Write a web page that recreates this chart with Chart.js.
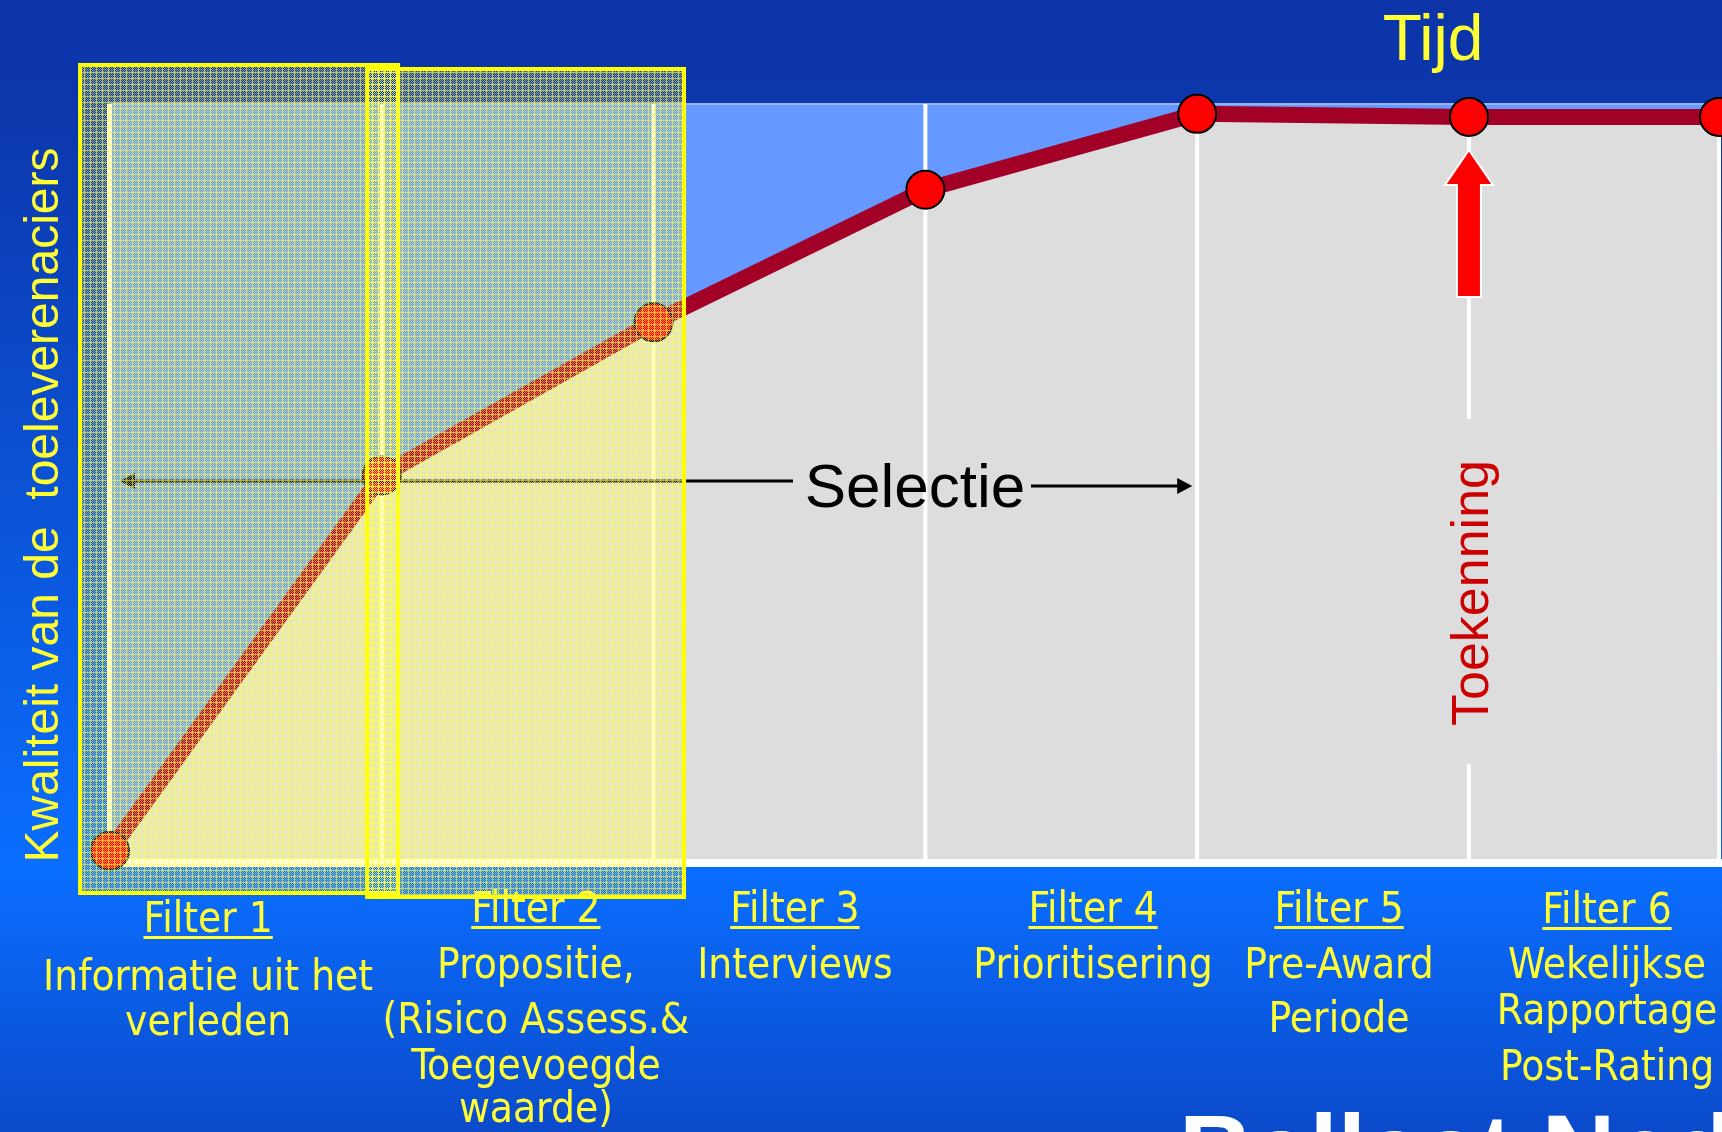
<!DOCTYPE html>
<html>
<head>
<meta charset="utf-8">
<title>Selectie van toeleveranciers</title>
<script src="https://cdn.jsdelivr.net/npm/chart.js@4.4.1/dist/chart.umd.min.js"></script>
<style>
  html, body { margin: 0; padding: 0; overflow: hidden; background: #0c35aa; }
  #wrap { position: relative; width: 1722px; height: 1132px; }
</style>
</head>
<body>
<div id="wrap"><canvas id="chart"></canvas></div>
<script>
// one point per grid line, quality rises over time (last stage sits a bit closer)
const stageX = [0, 1, 2, 3, 4, 5, 5.92];
const quality = [1.5, 51, 71.2, 88.7, 98.7, 98.3, 98.3];

const filterTitles = ['Filter 1', 'Filter 2', 'Filter 3', 'Filter 4', 'Filter 5', 'Filter 6'];
const filterTexts = [
    ['Informatie uit het', 'verleden'],
    ['Propositie,', '(Risico Assess.&', 'Toegevoegde', 'waarde)'],
    ['Interviews'],
    ['Prioritisering'],
    ['Pre-Award', 'Periode'],
    ['Wekelijkse', 'Rapportage', 'Post-Rating']
];
const yTitle = 'Kwaliteit van de  toeleverenaciers';
const xTitle = 'Tijd';
const selectionText = 'Selectie';
const awardText = 'Toekenning';
const footerText = 'Ballast Nedam';

// caption layout: x in stage units, baselines in px
const captionAt = [0.361, 1.567, 2.520, 3.617, 4.522, 5.508];
const titleBase = [932, 922, 922, 922, 922, 923];
const lineBase = [[990, 1035], [978, 1033, 1079, 1122], [978], [978], [978, 1032], [978, 1024, 1080]];

// yellow highlight frames round the first two filters (x in stage units)
const frames = [
    { from: -0.110, to: 1.060, top: 65, bottom: 893 },
    { from: 0.946, to: 2.112, top: 69, bottom: 897 }
];

const YELLOW = '#ffff33';
const SANS = '"Liberation Sans", Arial, sans-serif';
const CAPTION = '42px "DejaVu Sans Condensed", "DejaVu Sans", sans-serif';

// dithered yellow with a fine grid, like the old slide fill
function hatchPattern(ctx) {
    const n = 6;
    const c = document.createElement('canvas');
    c.width = n;
    c.height = n;
    const p = c.getContext('2d');
    p.fillStyle = 'rgba(255,255,90,0.55)';
    for (let i = 0; i < n; i++) {
        for (let j = 0; j < n; j++) {
            if ((i + j) % 2 === 0) p.fillRect(i, j, 1, 1);
        }
    }
    p.clearRect(0, 0, n, 1);
    p.clearRect(0, 0, 1, n);
    p.fillStyle = 'rgba(255,255,80,0.7)';
    p.fillRect(0, 0, n, 1);
    p.fillRect(0, 1, 1, n - 1);
    return ctx.createPattern(c, 'repeat');
}

function arrowHead(ctx, x, y, dir) {
    ctx.beginPath();
    ctx.moveTo(x, y);
    ctx.lineTo(x - dir * 15, y - 8);
    ctx.lineTo(x - dir * 15, y + 8);
    ctx.closePath();
    ctx.fill();
}

const slide = {
    id: 'slide',
    beforeDraw(chart) {
        const { ctx, width, height, chartArea: a } = chart;
        const g = ctx.createLinearGradient(0, 0, 0, height);
        g.addColorStop(0, '#0c34a8');
        g.addColorStop(0.09, '#0c36ab');
        g.addColorStop(0.77, '#0a6eff');
        g.addColorStop(1, '#0b4acb');
        ctx.save();
        ctx.fillStyle = g;
        ctx.fillRect(0, 0, width, height);
        ctx.fillStyle = '#dddddd';
        ctx.fillRect(a.left, a.top, a.right - a.left, a.bottom - a.top);
        ctx.restore();
    },
    beforeDatasetDraw(chart) {
        // white grid lines, drawn over the blue fill and under the line
        const { ctx, chartArea: a, scales: { x } } = chart;
        ctx.save();
        ctx.fillStyle = '#ffffff';
        stageX.forEach((v, i) => {
            const px = x.getPixelForValue(v);
            if (i === 0) {
                ctx.fillRect(px - 3, a.top, 5, a.bottom - a.top);
            } else if (i === 5) {
                ctx.fillRect(px - 2, a.top, 4, 419 - a.top);
                ctx.fillRect(px - 2, 764, 4, a.bottom - 764);
            } else {
                ctx.fillRect(px - 2, a.top, 4, a.bottom - a.top);
            }
        });
        ctx.fillRect(a.left - 3, a.bottom - 3, a.right - a.left + 6, 8);
        ctx.fillStyle = 'rgba(255,255,255,0.6)';
        ctx.fillRect(a.left, a.top - 1, a.right - a.left, 1.5);
        ctx.restore();
    },
    afterDatasetsDraw(chart) {
        const { ctx, scales: { x } } = chart;
        const x0 = x.getPixelForValue(stageX[0]);
        const x4 = x.getPixelForValue(stageX[4]);
        const x5 = x.getPixelForValue(stageX[5]);
        ctx.save();

        // Selectie with its two arrows
        ctx.strokeStyle = '#000';
        ctx.fillStyle = '#000';
        ctx.lineWidth = 3;
        ctx.beginPath();
        ctx.moveTo(793, 481);
        ctx.lineTo(x0 + 20, 481);
        ctx.moveTo(1031, 486);
        ctx.lineTo(x4 - 15, 486);
        ctx.stroke();
        arrowHead(ctx, x0 + 10, 481, -1);
        arrowHead(ctx, x4 - 5, 486, 1);
        ctx.font = '62px ' + SANS;
        ctx.textAlign = 'center';
        ctx.textBaseline = 'alphabetic';
        ctx.fillText(selectionText, 915, 507);

        // highlight frames
        const pat = hatchPattern(ctx);
        frames.forEach(f => {
            const l = x.getPixelForValue(f.from);
            const r = x.getPixelForValue(f.to);
            ctx.fillStyle = pat;
            ctx.fillRect(l, f.top, r - l, f.bottom - f.top);
            ctx.strokeStyle = '#ffff00';
            ctx.lineWidth = 4;
            ctx.strokeRect(l, f.top, r - l, f.bottom - f.top);
        });

        // award arrow and label
        ctx.beginPath();
        ctx.moveTo(x5, 150);
        ctx.lineTo(x5 + 24, 185);
        ctx.lineTo(x5 + 12, 185);
        ctx.lineTo(x5 + 12, 297);
        ctx.lineTo(x5 - 12, 297);
        ctx.lineTo(x5 - 12, 185);
        ctx.lineTo(x5 - 24, 185);
        ctx.closePath();
        ctx.fillStyle = '#ff0000';
        ctx.fill();
        ctx.strokeStyle = '#ffffff';
        ctx.lineWidth = 2;
        ctx.stroke();

        ctx.save();
        ctx.translate(x5 + 19, 593);
        ctx.rotate(-Math.PI / 2);
        ctx.fillStyle = '#cc0000';
        ctx.font = '52px ' + SANS;
        ctx.textAlign = 'center';
        ctx.fillText(awardText, 0, 0);
        ctx.restore();

        // axis titles
        ctx.fillStyle = YELLOW;
        ctx.font = '64px ' + SANS;
        ctx.textAlign = 'center';
        ctx.fillText(xTitle, 1433, 60);

        ctx.save();
        ctx.translate(58, 505);
        ctx.rotate(-Math.PI / 2);
        ctx.font = '48px ' + SANS;
        ctx.fillText(yTitle, 0, 0);
        ctx.restore();

        // filter captions
        ctx.font = CAPTION;
        filterTitles.forEach((t, i) => {
            const cx = x.getPixelForValue(captionAt[i]);
            ctx.fillStyle = YELLOW;
            ctx.fillText(t, cx, titleBase[i]);
            const w = ctx.measureText(t).width;
            ctx.fillRect(cx - w / 2, titleBase[i] + 4, w, 3);
            filterTexts[i].forEach((line, j) => ctx.fillText(line, cx, lineBase[i][j]));
        });

        // company name, cut off by the bottom edge
        ctx.fillStyle = '#ffffff';
        ctx.font = 'bold 102px ' + SANS;
        ctx.textAlign = 'left';
        ctx.fillText(footerText, 1179, 1186);

        ctx.restore();
    }
};

new Chart(document.getElementById('chart'), {
    type: 'line',
    data: {
        datasets: [{
            data: stageX.map((v, i) => ({ x: v, y: quality[i] })),
            borderColor: '#a30028',
            borderWidth: 16,
            backgroundColor: '#6699ff',
            fill: 'end',
            pointRadius: 19,
            pointBackgroundColor: '#ff0000',
            pointBorderColor: '#000000',
            pointBorderWidth: 2,
            tension: 0,
            clip: false
        }]
    },
    options: {
        responsive: true,
        maintainAspectRatio: false,
        animation: false,
        layout: {
            autoPadding: false,
            padding: { left: 110, right: 3, top: 104, bottom: 270 }
        },
        scales: {
            x: { type: 'linear', min: 0, max: 5.92, display: false },
            y: { min: 0, max: 100, display: false }
        },
        plugins: {
            legend: { display: false },
            tooltip: { enabled: false }
        }
    },
    plugins: [slide]
});
</script>
</body>
</html>
